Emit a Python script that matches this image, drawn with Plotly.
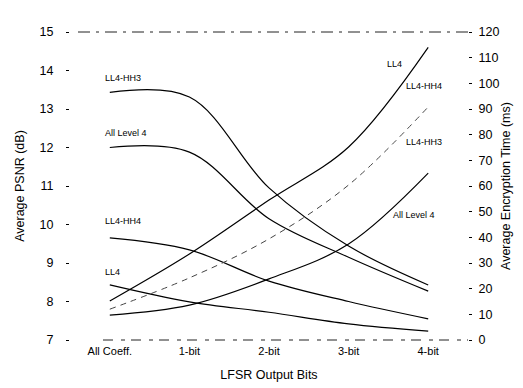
import plotly.graph_objects as go

# ---- data ----
bits = ["All Coeff.", "1-bit", "2-bit", "3-bit", "4-bit"]

psnr_ll4_hh3 = [13.43, 13.31, 10.95, 9.44, 8.43]
psnr_all_level4 = [12.0, 11.88, 10.15, 9.15, 8.27]
psnr_ll4_hh4 = [9.65, 9.34, 8.53, 8.0, 7.55]
psnr_ll4 = [8.43, 7.99, 7.72, 7.42, 7.23]

time_ll4 = [15.2, 33.5, 54.5, 75.2, 114.0]
time_ll4_hh3 = [12.0, 24.2, 39.4, 60.4, 90.8]
time_all_level4 = [9.7, 13.6, 23.8, 37.4, 65.0]

psnr_ticks = list(range(7, 16))
time_ticks = list(range(0, 121, 10))

FONT = "Liberation Sans, Arial, sans-serif"
W, H = 523, 388
L, R, T, B = 62, 63, 24, 56
PW, PH = W - L - R, H - T - B


def px(x, y):
    return (x - L) / PW, (H - B - y) / PH


fig = go.Figure()

line_style = dict(color="black", width=1.2, shape="spline", smoothing=1)

for ys in (psnr_ll4_hh3, psnr_all_level4, psnr_ll4_hh4, psnr_ll4):
    fig.add_trace(go.Scatter(x=bits, y=ys, mode="lines", line=line_style,
                             hoverinfo="skip"))

fig.add_trace(go.Scatter(x=bits, y=time_ll4, mode="lines", line=line_style,
                         yaxis="y2", hoverinfo="skip"))
fig.add_trace(go.Scatter(x=bits, y=time_ll4_hh3, mode="lines",
                         line=dict(color="#444444", width=1, shape="spline",
                                   smoothing=1, dash="6px,5px"),
                         yaxis="y2", hoverinfo="skip"))
fig.add_trace(go.Scatter(x=bits, y=time_all_level4, mode="lines", line=line_style,
                         yaxis="y2", hoverinfo="skip"))

labels = [
    ("LL4-HH3", 95, 70, "left"),
    ("All Level 4", 95, 125, "left"),
    ("LL4-HH4", 95, 213, "left"),
    ("LL4", 95, 264, "left"),
    ("LL4", 377, 56, "left"),
    ("LL4-HH4", 396, 78, "left"),
    ("LL4-HH3", 396, 134, "left"),
    ("All Level 4", 383, 207, "left"),
]
annotations = []
for text, x, y, anc in labels:
    ax, ay = px(x, y)
    annotations.append(dict(text=text, x=ax, y=ay, xref="paper", yref="paper",
                            xanchor=anc, yanchor="middle", showarrow=False,
                            font=dict(size=9, color="black", family=FONT)))

shapes = [
    dict(type="line", xref="paper", yref="paper", x0=px(70, 0)[0], x1=1,
         y0=1, y1=1, line=dict(color="#222222", width=1, dash="12px,6px,3px,6px")),
    dict(type="line", xref="paper", yref="paper", x0=px(95, 0)[0], x1=1,
         y0=0, y1=0, line=dict(color="#222222", width=1, dash="10px,8px,4px,6px")),
]

fig.update_layout(
    width=W, height=H,
    margin=dict(l=L, r=R, t=T, b=B),
    paper_bgcolor="white", plot_bgcolor="white",
    showlegend=False,
    font=dict(family=FONT, color="black"),
    annotations=annotations,
    shapes=shapes,
    xaxis=dict(type="category", range=[-0.5, 4.5], showgrid=False,
               zeroline=False, showline=False, ticks="",
               tickfont=dict(size=11), ticklabelstandoff=3,
               title=dict(text="LFSR Output Bits", font=dict(size=12.5),
                          standoff=14)),
    yaxis=dict(range=[7, 15], tickvals=psnr_ticks, showgrid=False,
               zeroline=False, showline=False, ticks="outside", ticklen=3,
               tickcolor="black", tickfont=dict(size=12.5),
               ticklabelstandoff=10,
               title=dict(text="Average PSNR (dB)", font=dict(size=12.5),
                          standoff=12)),
    yaxis2=dict(range=[0, 120], tickvals=time_ticks, overlaying="y",
                side="right", showgrid=False, zeroline=False, showline=False,
                ticks="outside", ticklen=3, tickcolor="black",
                tickfont=dict(size=12.5), ticklabelstandoff=4,
                title=dict(text="Average Encryption Time (ms)",
                           font=dict(size=12.5), standoff=2)),
)

fig.write_html("out.html")
